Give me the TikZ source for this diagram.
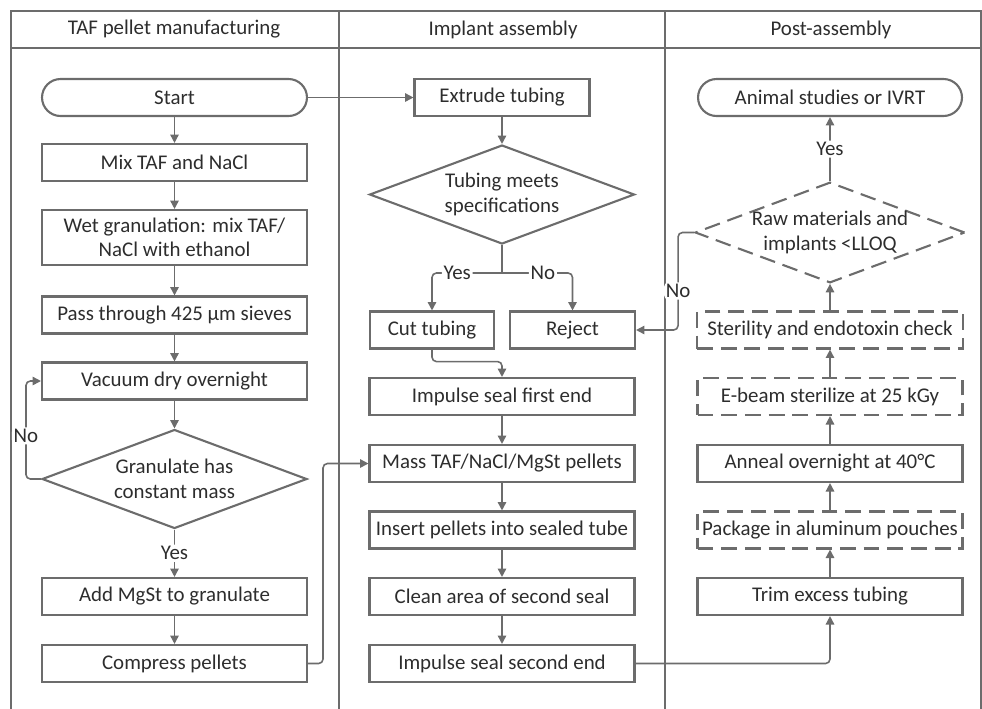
\documentclass[tikz,border=0pt]{standalone}
\usepackage{fontspec}
\setmainfont{Carlito}
\usepackage{tikz}
\usetikzlibrary{arrows.meta, positioning, calc, shapes.geometric}
\definecolor{lineg}{RGB}{108,108,108}
\definecolor{textg}{RGB}{45,45,45}

\begin{document}
\begin{tikzpicture}[x=0.02cm, y=-0.02cm,
  font=\fontsize{11.9}{13.9}\selectfont, text=textg,
  %% Node styles
  pblock/.style ={draw=lineg, line width=1.2pt, minimum width=5.3cm, minimum height=0.74cm,
                  inner sep=1pt, align=center},
  dblock/.style ={pblock, dash pattern=on 9pt off 4.5pt},
  tblock/.style ={pblock, rounded corners=0.37cm},
  dchk/.style   ={draw=lineg, line width=1.2pt, diamond, aspect=2.68, inner sep=0pt,
                  minimum width=5.3cm, minimum height=1.98cm, align=center},
  ddchk/.style  ={dchk, dash pattern=on 9pt off 4.5pt},
  %% Swimlanes
  lane/.style   ={draw=lineg, line width=1.2pt},
  %% Arrows
  arr/.style    ={-{Triangle[length=4.8pt, width=4.8pt]}, draw=lineg, line width=0.9pt,
                  rounded corners=2.5pt},
  conn/.style   ={draw=lineg, line width=0.9pt, rounded corners=2.5pt},
  lbl/.style    ={fill=white, inner sep=1pt}
]
\useasboundingbox (0,0) rectangle (982,708);

%% ── SWIMLANES ─────────────────────────────────────────────────
\draw[lane] (11,712) -- (11,11) -- (981,11) -- (981,712);
\draw[lane] (11,48)  -- (981,48);
\draw[lane] (339,11) -- (339,712);
\draw[lane] (665,11) -- (665,712);

\node (hdtaf)  at (174,29.5) {TAF pellet manufacturing};
\node (hdimp)  at (503,29.5) {Implant assembly};
\node (hdpost) at (831,29.5) {Post-assembly};

%% ── LANE 1 : TAF PELLET MANUFACTURING ─────────────────────────
\node[tblock] (start)  at (174.5, 97.5) {Start};
\node[pblock] (mix)    at (174.5,162.5) {Mix TAF and NaCl};
\node[pblock, minimum height=1.1cm] (wetgr) at (174.5,237.5) {Wet granulation: mix TAF/\\NaCl with ethanol};
\node[pblock] (sieve)  at (174.5,315)   {Pass through 425 µm sieves};
\node[pblock] (vacdry) at (174.5,381)   {Vacuum dry overnight};
\node[dchk]   (gran)   at (174.5,479)   {Granulate has\\constant mass};
\node[pblock] (addmg)  at (174.5,596.5) {Add MgSt to granulate};
\node[pblock] (press)  at (174.5,663.5) {Compress pellets};

\draw[arr] (start)  -- (mix);
\draw[arr] (mix)    -- (wetgr);
\draw[arr] (wetgr)  -- (sieve);
\draw[arr] (sieve)  -- (vacdry);
\draw[arr] (vacdry) -- (gran.north);
%% not constant yet -> dry again
\draw[arr] (gran.west) -- ++(-15,0) |- node[lbl, pos=0.22] {No} (vacdry.west);
\draw[arr] (gran.south) -- node[lbl] {Yes} (addmg.north);
\draw[arr] (addmg)  -- (press);

%% ── LANE 2 : IMPLANT ASSEMBLY ─────────────────────────────────
\node[pblock, minimum width=3.5cm] (extrude) at (502, 97.5) {Extrude tubing};
\node[dchk]   (tubeok) at (502,194.5) {Tubing meets\\specifications};
\node[pblock, minimum width=2.48cm] (cut)    at (432,330) {Cut tubing};
\node[pblock, minimum width=2.5cm]  (reject) at (572.5,330) {Reject};
\node[pblock] (seal1)  at (502,396.5) {Impulse seal first end};
\node[pblock] (mass)   at (502,463.5) {Mass TAF/NaCl/MgSt pellets};
\node[pblock] (insert) at (502,530)   {Insert pellets into sealed tube};
\node[pblock] (clean)  at (502,596.5) {Clean area of second seal};
\node[pblock] (seal2)  at (502,663.5) {Impulse seal second end};

\draw[arr] (start.east) -- (extrude.west);
\draw[arr] (extrude) -- (tubeok.north);
%% yes / no split under the decision
\coordinate (tsplit) at (502,273);
\draw[conn] (tubeok.south) -- (tsplit);
\draw[arr] (tsplit) -| node[lbl, pos=0.32] {Yes} (cut.north);
\draw[arr] (tsplit) -| node[lbl, pos=0.29] {No}  (reject.north);
\draw[arr] (cut.south) -- ++(0,12) -| (seal1.north);
%% pellets come in from lane 1
\draw[arr] (press.east) -- ++(15,0) |- (mass.west);
\draw[arr] (seal1)  -- (mass);
\draw[arr] (mass)   -- (insert);
\draw[arr] (insert) -- (clean);
\draw[arr] (clean)  -- (seal2);

%% ── LANE 3 : POST-ASSEMBLY (bottom to top) ────────────────────
\node[tblock, minimum width=5.28cm] (animal) at (830, 97.5) {Animal studies or IVRT};
\node[ddchk, minimum width=5.18cm] (llq)    at (830,232.5) {Raw materials and\\implants <LLOQ};
\node[dblock, minimum width=5.32cm] (steril) at (830,330)   {Sterility and endotoxin check};
\node[dblock] (ebeam)  at (830,396.5) {E-beam sterilize at 25 kGy};
\node[pblock] (anneal) at (830,463.5) {Anneal overnight at 40°C};
\node[dblock] (pack)   at (830,530)   {Package in aluminum pouches};
\node[pblock] (trim)   at (830,596.5) {Trim excess tubing};

\draw[arr] (seal2.east) -| (trim.south);
\draw[arr] (trim)   -- (pack);
\draw[arr] (pack)   -- (anneal);
\draw[arr] (anneal) -- (ebeam);
\draw[arr] (ebeam)  -- (steril);
\draw[arr] (steril) -- (llq.south);
\draw[arr] (llq.north) -- node[lbl] {Yes} (animal.south);
%% failed check -> reject
\draw[arr] (llq.west) -- ++(-16,0) |- node[lbl, pos=0.3] {No} (reject.east);

\end{tikzpicture}
\end{document}
